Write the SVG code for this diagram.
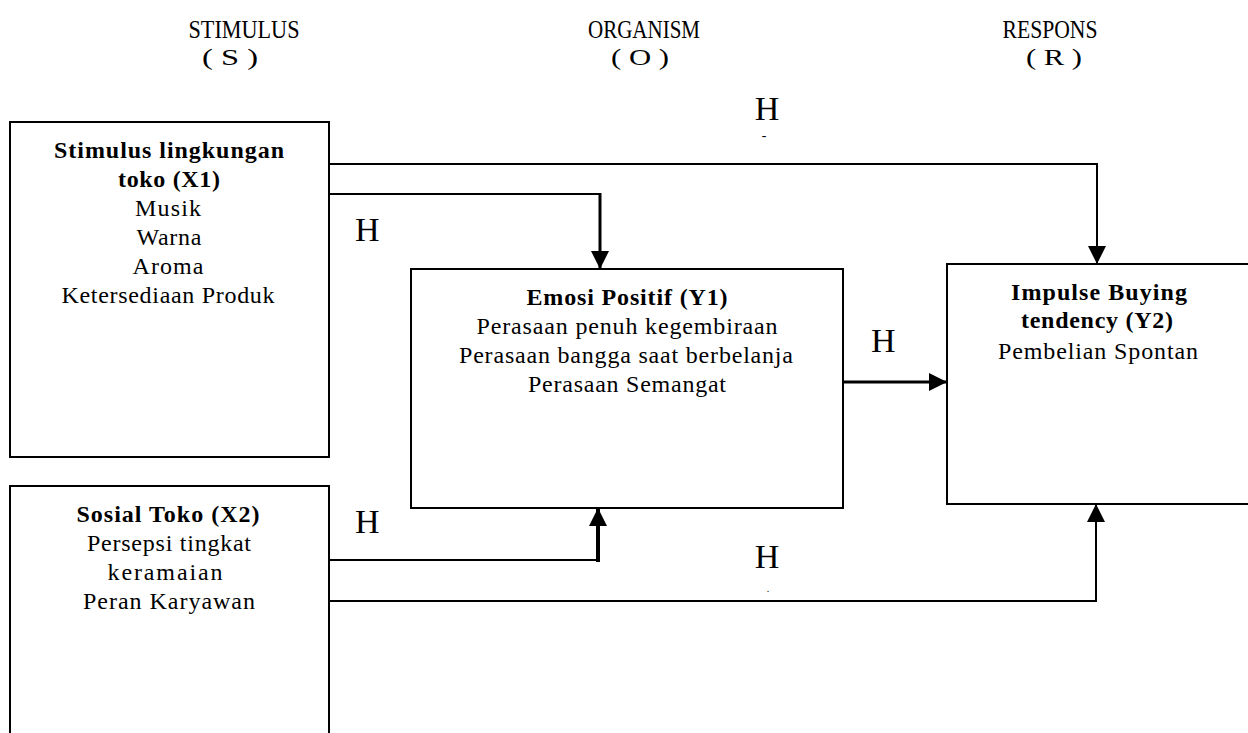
<svg xmlns="http://www.w3.org/2000/svg" width="1248" height="733" viewBox="0 0 1248 733">
<style>
  text { font-family: "Times New Roman", "Liberation Serif", "DejaVu Serif", serif; fill: #000; }
  .hdr { font-size: 25px; text-anchor: middle; }
  .par { font-size: 23px; text-anchor: middle; }
  .t { font-size: 24px; text-anchor: middle; }
  .b { font-size: 24px; font-weight: bold; text-anchor: middle; }
  .h { font-size: 34px; }
  .box { fill: #fff; stroke: #000; stroke-width: 2; }
  .ln { fill: none; stroke: #000; stroke-width: 2; }
</style>
<defs>
  <marker id="ah" markerUnits="userSpaceOnUse" markerWidth="18" markerHeight="18" refX="18" refY="9" orient="auto">
    <path d="M0,0 L18,9 L0,18 z" fill="#000"/>
  </marker>
</defs>
<rect width="1248" height="733" fill="#fff"/>

<g id="headers">
  <text class="hdr" x="244" y="38" textLength="111" lengthAdjust="spacingAndGlyphs">STIMULUS</text>
  <text class="par" x="230" y="65" textLength="56" lengthAdjust="spacingAndGlyphs">( S )</text>
  <text class="hdr" x="644" y="38" textLength="112" lengthAdjust="spacingAndGlyphs">ORGANISM</text>
  <text class="par" x="640" y="65" textLength="58" lengthAdjust="spacingAndGlyphs">( O )</text>
  <text class="hdr" x="1050" y="38" textLength="95" lengthAdjust="spacingAndGlyphs">RESPONS</text>
  <text class="par" x="1054" y="65" textLength="56" lengthAdjust="spacingAndGlyphs">( R )</text>
</g>

<g id="node-x1">
  <rect class="box" x="10" y="122" width="319" height="335"/>
  <text class="b" x="169" y="158" textLength="230">Stimulus lingkungan</text>
  <text class="b" x="169" y="187" textLength="102">toko (X1)</text>
  <text class="t" x="168" y="216" textLength="66">Musik</text>
  <text class="t" x="169" y="245" textLength="65">Warna</text>
  <text class="t" x="168" y="274" textLength="71">Aroma</text>
  <text class="t" x="168" y="303" textLength="213">Ketersediaan Produk</text>
</g>

<g id="node-x2">
  <rect class="box" x="10" y="486" width="319" height="260"/>
  <text class="b" x="168" y="522" textLength="183">Sosial Toko (X2)</text>
  <text class="t" x="169" y="551" textLength="164">Persepsi tingkat</text>
  <text class="t" x="165" y="580" textLength="115">keramaian</text>
  <text class="t" x="169" y="609" textLength="172">Peran Karyawan</text>
</g>

<g id="node-y1">
  <rect class="box" x="411" y="269" width="432" height="239"/>
  <text class="b" x="627" y="305" textLength="201">Emosi Positif (Y1)</text>
  <text class="t" x="627" y="334" textLength="301">Perasaan penuh kegembiraan</text>
  <text class="t" x="626" y="363" textLength="334">Perasaan bangga saat berbelanja</text>
  <text class="t" x="627" y="392" textLength="198">Perasaan Semangat</text>
</g>

<g id="node-y2">
  <rect class="box" x="947" y="264" width="310" height="240"/>
  <text class="b" x="1099" y="300" textLength="176">Impulse Buying</text>
  <text class="b" x="1097" y="328" textLength="152">tendency (Y2)</text>
  <text class="t" x="1098" y="359" textLength="200">Pembelian Spontan</text>
</g>

<g id="connectors">
  <path class="ln" d="M329,164 H1097 V264" marker-end="url(#ah)"/>
  <path class="ln" d="M329,194 H600"/>
  <line class="ln" x1="600" y1="193" x2="600" y2="269" style="stroke-width:3" marker-end="url(#ah)"/>
  <path class="ln" d="M843,382 H947" style="stroke-width:3" marker-end="url(#ah)"/>
  <path class="ln" d="M329,560 H598"/>
  <line class="ln" x1="598" y1="562" x2="598" y2="508" style="stroke-width:4" marker-end="url(#ah)"/>
  <path class="ln" d="M329,601 H1096 V504" marker-end="url(#ah)"/>
</g>

<g id="labels">
  <text class="h" x="767" y="120" text-anchor="middle">H</text>
  <text x="764" y="140" font-size="14" text-anchor="middle">-</text>
  <text class="h" x="355" y="241">H</text>
  <text class="h" x="871" y="352">H</text>
  <text class="h" x="355" y="533">H</text>
  <text class="h" x="767" y="568" text-anchor="middle">H</text>
  <text x="768" y="592" font-size="10" text-anchor="middle">.</text>
</g>
</svg>
